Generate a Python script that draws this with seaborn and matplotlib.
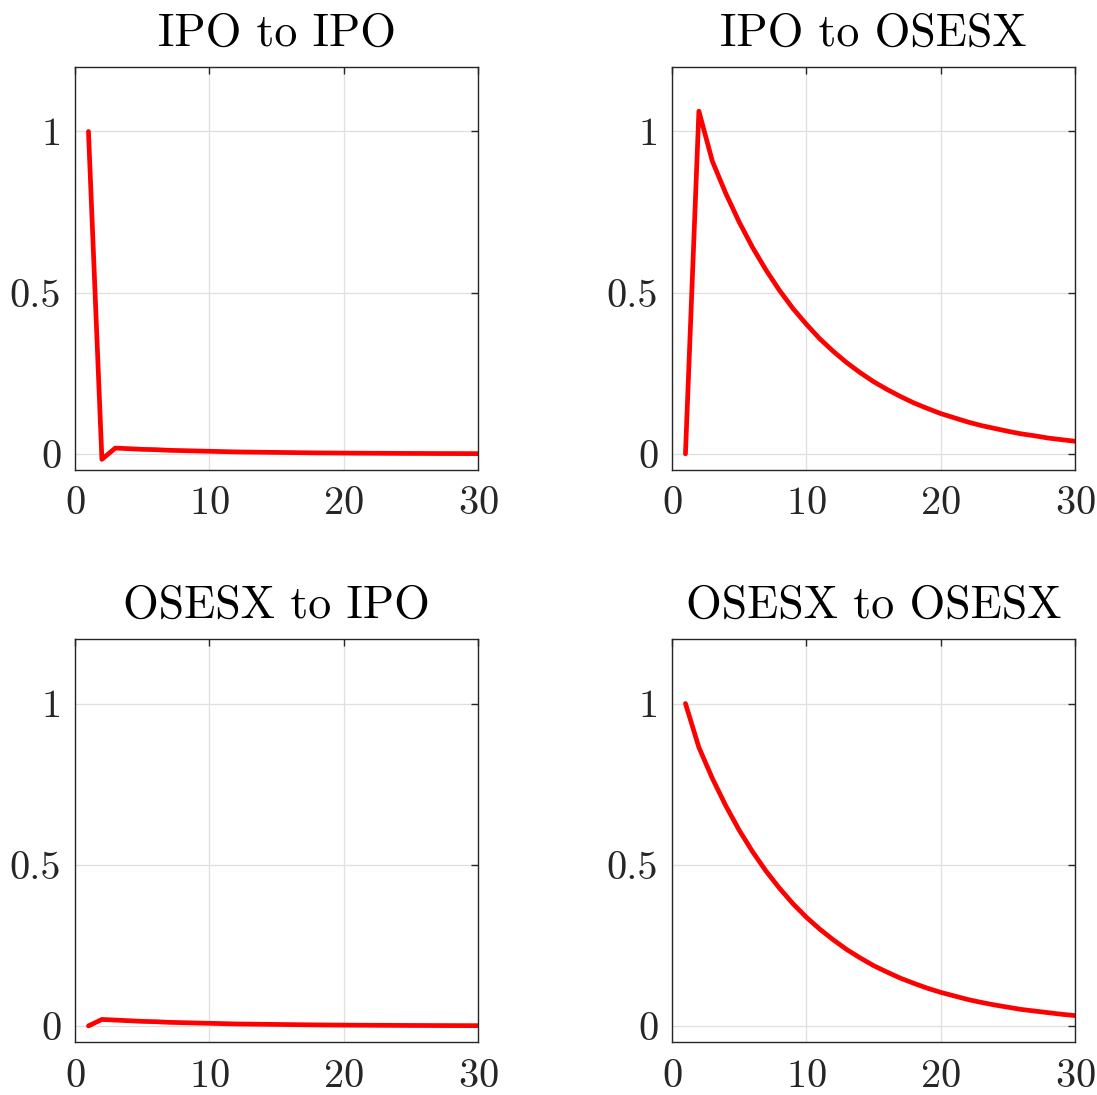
import matplotlib
matplotlib.use("Agg")
import matplotlib.pyplot as plt
import seaborn as sns
import pandas as pd

# --- datos ---
titles = ["IPO to IPO", "IPO to OSESX", "OSESX to IPO", "OSESX to OSESX"]
horizon = list(range(1, 31))

ipo_to_ipo = [1.0, -0.017, 0.018, 0.016, 0.014, 0.013, 0.011, 0.010, 0.009, 0.008,
              0.007, 0.006, 0.0055, 0.005, 0.0045, 0.004, 0.0035, 0.003, 0.0027, 0.0024,
              0.0021, 0.0019, 0.0017, 0.0015, 0.0013, 0.0012, 0.0010, 0.0009, 0.0008, 0.0007]
ipo_to_osesx = [0.0, 1.063, 0.908, 0.808, 0.719, 0.640, 0.570, 0.507, 0.451, 0.402,
                0.357, 0.318, 0.283, 0.252, 0.224, 0.200, 0.178, 0.158, 0.141, 0.125,
                0.112, 0.099, 0.088, 0.079, 0.070, 0.062, 0.056, 0.049, 0.044, 0.039]
osesx_to_ipo = [0.0, 0.020, 0.018, 0.016, 0.014, 0.013, 0.011, 0.010, 0.009, 0.008,
                0.007, 0.006, 0.0055, 0.005, 0.0045, 0.004, 0.0035, 0.003, 0.0027, 0.0024,
                0.0021, 0.0019, 0.0017, 0.0015, 0.0013, 0.0012, 0.0010, 0.0009, 0.0008, 0.0007]
osesx_to_osesx = [1.0, 0.864, 0.768, 0.683, 0.607, 0.540, 0.480, 0.427, 0.379, 0.337,
                  0.300, 0.267, 0.237, 0.211, 0.187, 0.167, 0.148, 0.132, 0.117, 0.104,
                  0.093, 0.082, 0.073, 0.065, 0.058, 0.051, 0.046, 0.041, 0.036, 0.032]

series = [ipo_to_ipo, ipo_to_osesx, osesx_to_ipo, osesx_to_osesx]

# --- estilo ---
sns.set_style("white")
plt.rcParams["font.family"] = ["cmr10", "DejaVu Serif"]
plt.rcParams["axes.formatter.use_mathtext"] = True
plt.rcParams["mathtext.fontset"] = "cm"
TEXT = "#262626"

fig = plt.figure(figsize=(10.97, 10.95), dpi=100)
lefts = [0.0684, 0.6126]
bottoms = [0.5708, 0.0484]
w, h = 0.3674, 0.368

for i, (title, vals) in enumerate(zip(titles, series)):
    ax = fig.add_axes([lefts[i % 2], bottoms[i // 2], w, h])
    df = pd.DataFrame({"h": horizon, "v": vals})
    sns.lineplot(data=df, x="h", y="v", ax=ax, color="#ff0000", linewidth=3.4)
    ax.set_xlim(0, 30)
    ax.set_ylim(-0.05, 1.2)
    ax.set_xticks([0, 10, 20, 30])
    ax.set_yticks([0, 0.5, 1])
    ax.set_yticklabels(["0", "0.5", "1"])
    ax.set_xlabel("")
    ax.set_ylabel("")
    ax.grid(True, color="#dfdfdf", linewidth=0.9)
    ax.set_axisbelow(True)
    for sp in ax.spines.values():
        sp.set_color(TEXT)
        sp.set_linewidth(1.0)
    ax.tick_params(direction="in", length=5, width=1.0, color=TEXT, labelcolor=TEXT,
                   labelsize=29, top=True, right=True)
    ax.tick_params(axis="x", pad=12)
    ax.tick_params(axis="y", pad=10)
    ax.set_title(title, fontsize=33, color="black", pad=15)

fig.savefig("out.png", dpi=100)
